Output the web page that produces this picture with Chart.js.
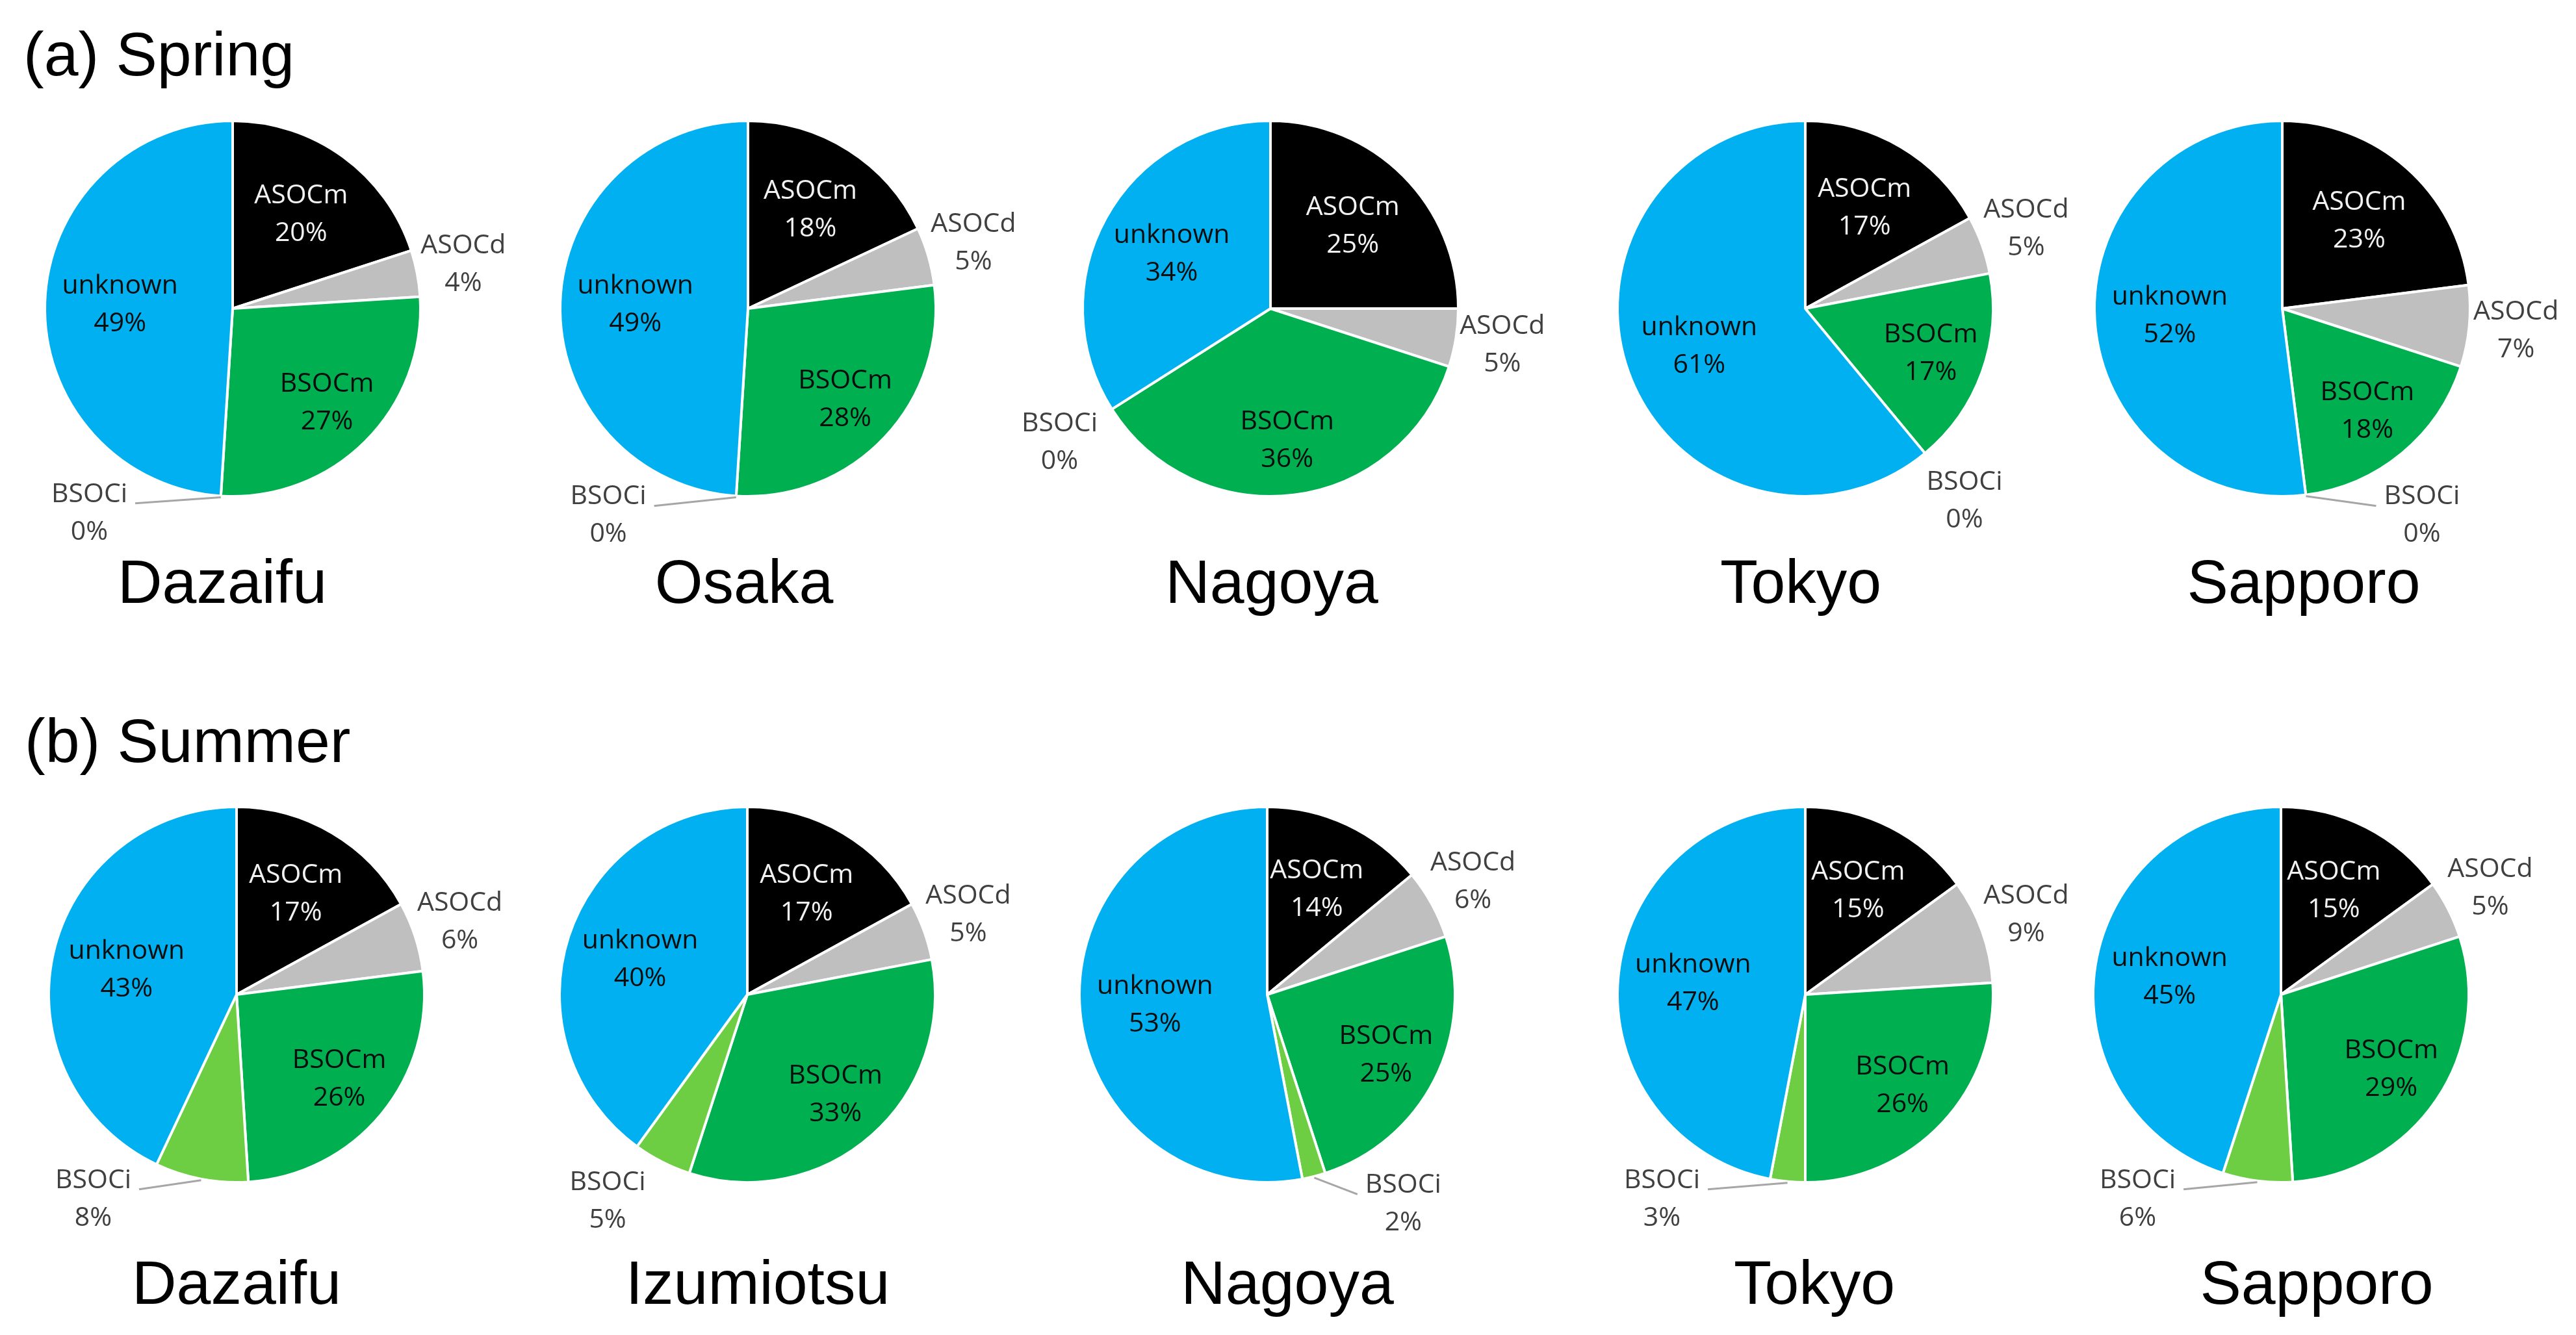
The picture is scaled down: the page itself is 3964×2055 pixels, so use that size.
<!DOCTYPE html>
<html>
<head>
<meta charset="utf-8">
<script src="https://cdn.jsdelivr.net/npm/chart.js@4.4.1/dist/chart.umd.min.js"></script>
<style>
  html, body { margin: 0; padding: 0; background: #fff; }
  #stage { position: relative; width: 3964px; height: 2055px; overflow: hidden; background: #fff; }
  #stage canvas { position: absolute; }
  .txt { position: absolute; font-family: "Liberation Sans", Arial, sans-serif; font-size: 95px; line-height: 95px; color: #000; white-space: nowrap; }
  .site { width: 800px; text-align: center; }
</style>
</head>
<body>
<div id="stage"></div>
<script>
/* global Chart */

// Components, in drawing order (clockwise from 12 o'clock)
const categories = ['ASOCm', 'ASOCd', 'BSOCm', 'BSOCi', 'unknown'];

const springSites = ['Dazaifu', 'Osaka', 'Nagoya', 'Tokyo', 'Sapporo'];
const summerSites = ['Dazaifu', 'Izumiotsu', 'Nagoya', 'Tokyo', 'Sapporo'];

// percentages, same order as categories
const springDazaifu = [20, 4, 27, 0, 49];
const springOsaka = [18, 5, 28, 0, 49];
const springNagoya = [25, 5, 36, 0, 34];
const springTokyo = [17, 5, 17, 0, 61];
const springSapporo = [23, 7, 18, 0, 52];

const summerDazaifu = [17, 6, 26, 8, 43];
const summerIzumiotsu = [17, 5, 33, 5, 40];
const summerNagoya = [14, 6, 25, 2, 53];
const summerTokyo = [15, 9, 26, 3, 47];
const summerSapporo = [15, 5, 29, 6, 45];

const springValues = [springDazaifu, springOsaka, springNagoya, springTokyo, springSapporo];
const summerValues = [summerDazaifu, summerIzumiotsu, summerNagoya, summerTokyo, summerSapporo];

// styling
const sliceColors = ['#000000', '#bfbfbf', '#00b050', '#6dce44', '#00b0f0'];
const labelColors = ['#f2f2f2', '#404040', '#0d0d0d', '#404040', '#0d0d0d'];
const labelDist = [0.62, 1.25, 0.71, 1.33, 0.6];   // fraction of radius

// page layout (pixels)
const PIE_R = 291;
const BOX = { left: 420, right: 460, top: 300, bottom: 380 };
const springCenters = [[358, 475], [1151, 475], [1955, 475], [2778, 475], [3512, 475]];
const summerCenters = [[364, 1531], [1150, 1531], [1950, 1531], [2778, 1531], [3510, 1531]];
const springSiteX = [342, 1145, 1957, 2771, 3545];
const summerSiteX = [364, 1166, 1981, 2792, 3565];
// where Excel pushed the BSOCi callout (deg clockwise from top), null = at its slice
const springCallout = [215, 214, null, null, 146];
const summerCallout = [215, 214, 147, 215, 215];

const stage = document.getElementById('stage');

const sliceLabels = {
  id: 'sliceLabels',
  afterDraw(chart, args, opts) {
    const ctx = chart.ctx;
    const meta = chart.getDatasetMeta(0);
    const values = chart.data.datasets[0].data;
    ctx.save();
    ctx.font = '41px "Open Sans"';
    ctx.textAlign = 'center';
    ctx.textBaseline = 'middle';
    meta.data.forEach(function(arc, i) {
      const p = arc.getProps(['x', 'y', 'startAngle', 'endAngle', 'outerRadius'], true);
      const mid = (p.startAngle + p.endAngle) / 2;
      let ang = mid;
      if (i === 3 && opts.callout != null) {
        ang = opts.callout * Math.PI / 180 - Math.PI / 2;
      }
      const d = p.outerRadius * labelDist[i];
      const lx = p.x + Math.cos(ang) * d;
      const ly = p.y + Math.sin(ang) * d;

      // leader line when the label was moved away from its slice
      if (Math.abs(ang - mid) > 0.15) {
        const w = ctx.measureText(categories[i]).width;
        const side = Math.cos(ang) < 0 ? 1 : -1;
        ctx.strokeStyle = '#a6a6a6';
        ctx.lineWidth = 3;
        ctx.beginPath();
        ctx.moveTo(lx + side * (w / 2 + 12), ly - 29 + 14);
        ctx.lineTo(p.x + Math.cos(mid) * (p.outerRadius + 2), p.y + Math.sin(mid) * (p.outerRadius + 2));
        ctx.stroke();
      }

      ctx.fillStyle = labelColors[i];
      ctx.fillText(categories[i], lx, ly - 29);
      ctx.fillText(values[i] + '%', lx, ly + 29);
    });
    ctx.restore();
  },
};

function addText(text, cls, left, top) {
  const el = document.createElement('div');
  el.className = 'txt ' + cls;
  el.textContent = text;
  el.style.left = left + 'px';
  el.style.top = top + 'px';
  stage.appendChild(el);
}

function makePie(values, center, callout) {
  const canvas = document.createElement('canvas');
  canvas.width = BOX.left + BOX.right;
  canvas.height = BOX.top + BOX.bottom;
  canvas.style.left = (center[0] - BOX.left) + 'px';
  canvas.style.top = (center[1] - BOX.top) + 'px';
  stage.appendChild(canvas);

  new Chart(canvas.getContext('2d'), {
    type: 'pie',
    data: {
      labels: categories,
      datasets: [{
        data: values,
        backgroundColor: sliceColors,
        borderColor: '#ffffff',
        borderWidth: 4,
      }],
    },
    options: {
      responsive: false,
      animation: false,
      devicePixelRatio: 1,
      events: [],
      layout: {
        padding: {
          left: BOX.left - PIE_R,
          right: BOX.right - PIE_R,
          top: BOX.top - PIE_R,
          bottom: BOX.bottom - PIE_R,
        },
      },
      plugins: {
        legend: { display: false },
        tooltip: { enabled: false },
        sliceLabels: { callout: callout },
      },
    },
    plugins: [sliceLabels],
  });
}

addText('(a) Spring', '', 36, 36);
addText('(b) Summer', '', 38, 1093);

springValues.forEach(function(v, i) {
  makePie(v, springCenters[i], springCallout[i]);
  addText(springSites[i], 'site', springSiteX[i] - 400, 928 - 80);
});

summerValues.forEach(function(v, i) {
  makePie(v, summerCenters[i], summerCallout[i]);
  addText(summerSites[i], 'site', summerSiteX[i] - 400, 2007 - 80);
});
</script>
</body>
</html>
